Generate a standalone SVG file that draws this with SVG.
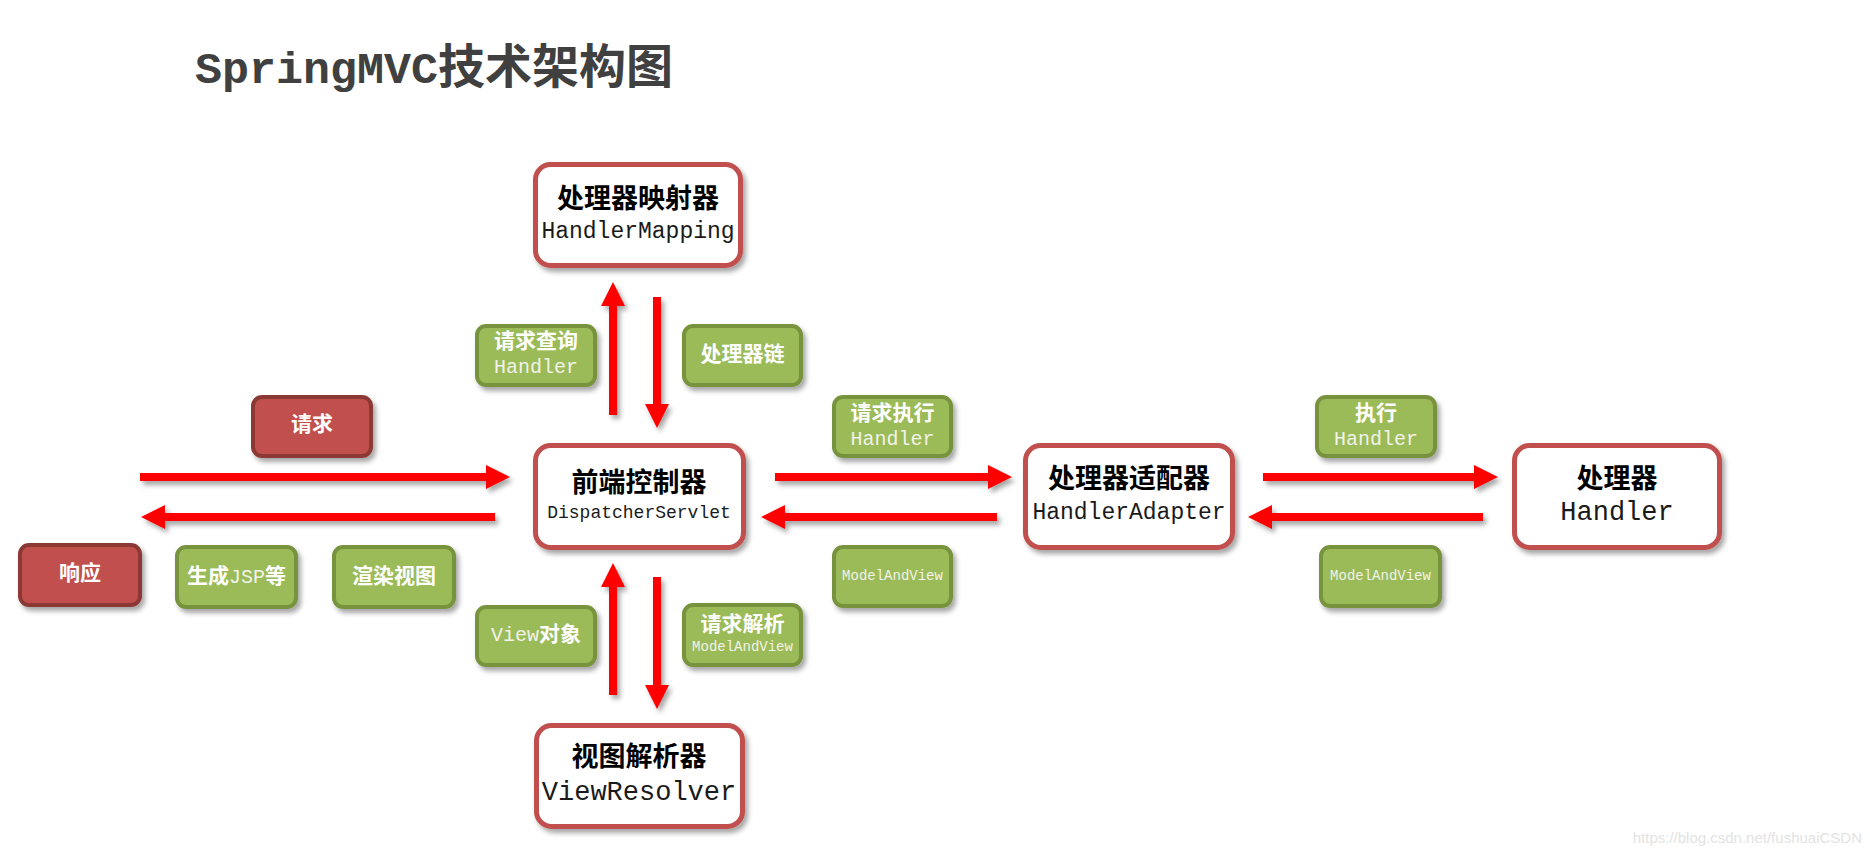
<svg xmlns="http://www.w3.org/2000/svg" width="1870" height="856" viewBox="0 0 1870 856">
<defs>
<filter id="sh" x="-20%" y="-20%" width="150%" height="160%">
<feDropShadow dx="3" dy="4" stdDeviation="2.5" flood-color="#000" flood-opacity="0.35"/>
</filter>
<marker id="ah" markerUnits="userSpaceOnUse" markerWidth="24" markerHeight="24" refX="0" refY="12" orient="auto">
<path d="M0,0 L24,12 L0,24 z" fill="#FF0000"/>
</marker>
<style>
.node{fill:#fff;stroke:#C0504D;stroke-width:5}
.g{fill:#9BBB59;stroke:#77933C;stroke-width:4}
.r{fill:#C0504D;stroke:#8C3836;stroke-width:4}
.cn{font-family:"Noto Sans CJK SC","Noto Sans",sans-serif;font-weight:bold;font-size:27px;fill:#000;text-anchor:middle}
.en{font-family:"Liberation Mono",monospace;font-size:23px;fill:#1a1a1a;text-anchor:middle}
.en18{font-size:18px}
.en27{font-size:27px}
.gc{font-family:"Noto Sans CJK SC","Noto Sans",sans-serif;font-weight:bold;font-size:21px;fill:#fff;text-anchor:middle}
.ge{font-family:"Liberation Mono",monospace;font-size:20px;fill:#f2f2ea;text-anchor:middle}
.gs{font-family:"Liberation Mono",monospace;font-size:14px;fill:#f2f2ea;text-anchor:middle}
.arr{stroke:#FF0000;stroke-width:8;fill:none;marker-end:url(#ah)}
</style>
</defs>
<rect width="1870" height="856" fill="#fff"/>

<text id="title" x="195" y="83" fill="#404040" font-weight="bold"><tspan font-family="Liberation Mono,monospace" font-size="45">SpringMVC</tspan><tspan font-family="Noto Sans CJK SC,sans-serif" font-size="47">技术架构图</tspan></text>

<g id="connectors" filter="url(#sh)">
<line class="arr" x1="140" y1="477" x2="486" y2="477"/>
<line class="arr" x1="495" y1="517" x2="165" y2="517"/>
<line class="arr" x1="775" y1="477" x2="988" y2="477"/>
<line class="arr" x1="997" y1="517" x2="785" y2="517"/>
<line class="arr" x1="1263" y1="477" x2="1474" y2="477"/>
<line class="arr" x1="1483" y1="517" x2="1272" y2="517"/>
<line class="arr" x1="613" y1="415" x2="613" y2="306"/>
<line class="arr" x1="657" y1="297" x2="657" y2="404"/>
<line class="arr" x1="613" y1="695" x2="613" y2="587"/>
<line class="arr" x1="657" y1="577" x2="657" y2="685"/>
</g>

<g id="handlerMapping">
<rect class="node" x="535.5" y="164.5" width="205" height="101" rx="15" filter="url(#sh)"/>
<text class="cn" x="638" y="208">处理器映射器</text>
<text class="en" x="638" y="238">HandlerMapping</text>
</g>

<g id="dispatcherServlet">
<rect class="node" x="535.5" y="445.5" width="208" height="102" rx="15" filter="url(#sh)"/>
<text class="cn" x="639" y="492">前端控制器</text>
<text class="en en18" x="639" y="518">DispatcherServlet</text>
</g>

<g id="handlerAdapter">
<rect class="node" x="1025.5" y="445.5" width="207" height="102" rx="15" filter="url(#sh)"/>
<text class="cn" x="1129" y="488">处理器适配器</text>
<text class="en" x="1129" y="519">HandlerAdapter</text>
</g>

<g id="handler">
<rect class="node" x="1514.5" y="445.5" width="205" height="102" rx="15" filter="url(#sh)"/>
<text class="cn" x="1617" y="488">处理器</text>
<text class="en en27" x="1617" y="520">Handler</text>
</g>

<g id="viewResolver">
<rect class="node" x="536.5" y="725.5" width="206" height="101" rx="15" filter="url(#sh)"/>
<text class="cn" x="639" y="766">视图解析器</text>
<text class="en en27" x="639" y="800">ViewResolver</text>
</g>

<g id="lbl-request">
<rect class="r" x="253" y="397" width="118" height="59" rx="9" filter="url(#sh)"/>
<text class="gc" x="312" y="431">请求</text>
</g>

<g id="lbl-response">
<rect class="r" x="20" y="545" width="120" height="60" rx="9" filter="url(#sh)"/>
<text class="gc" x="80" y="580">响应</text>
</g>

<g id="lbl-jsp">
<rect class="g" x="177" y="547" width="119" height="60" rx="9" filter="url(#sh)"/>
<text class="gc" x="236.5" y="583">生成<tspan font-family="Liberation Mono,monospace" font-weight="normal" font-size="20" fill="#f2f2ea">JSP</tspan>等</text>
</g>

<g id="lbl-render">
<rect class="g" x="334" y="547" width="120" height="60" rx="9" filter="url(#sh)"/>
<text class="gc" x="394" y="583">渲染视图</text>
</g>

<g id="lbl-query">
<rect class="g" x="477" y="326" width="118" height="59" rx="9" filter="url(#sh)"/>
<text class="gc" x="536" y="348">请求查询</text>
<text class="ge" x="536" y="373">Handler</text>
</g>

<g id="lbl-chain">
<rect class="g" x="684" y="326" width="117" height="59" rx="9" filter="url(#sh)"/>
<text class="gc" x="742.5" y="361">处理器链</text>
</g>

<g id="lbl-exec-req">
<rect class="g" x="834" y="397" width="117" height="59" rx="9" filter="url(#sh)"/>
<text class="gc" x="892.5" y="420">请求执行</text>
<text class="ge" x="892.5" y="445">Handler</text>
</g>

<g id="lbl-mav1">
<rect class="g" x="834" y="547" width="117" height="59" rx="9" filter="url(#sh)"/>
<text class="gs" x="892.5" y="580">ModelAndView</text>
</g>

<g id="lbl-exec">
<rect class="g" x="1317" y="397" width="118" height="59" rx="9" filter="url(#sh)"/>
<text class="gc" x="1376" y="420">执行</text>
<text class="ge" x="1376" y="445">Handler</text>
</g>

<g id="lbl-mav2">
<rect class="g" x="1321" y="547" width="119" height="59" rx="9" filter="url(#sh)"/>
<text class="gs" x="1380.5" y="580">ModelAndView</text>
</g>

<g id="lbl-view">
<rect class="g" x="477" y="607" width="118" height="58" rx="9" filter="url(#sh)"/>
<text class="gc" x="536" y="641"><tspan font-family="Liberation Mono,monospace" font-weight="normal" font-size="20" fill="#f2f2ea">View</tspan>对象</text>
</g>

<g id="lbl-resolve">
<rect class="g" x="684" y="605" width="117" height="60" rx="9" filter="url(#sh)"/>
<text class="gc" x="742.5" y="631">请求解析</text>
<text class="gs" x="742.5" y="651">ModelAndView</text>
</g>

<text id="watermark" x="1862" y="843" text-anchor="end" font-family="Liberation Sans,Arial,sans-serif" font-size="15" fill="#e3e3e3">https://blog.csdn.net/fushuaiCSDN</text>
</svg>
